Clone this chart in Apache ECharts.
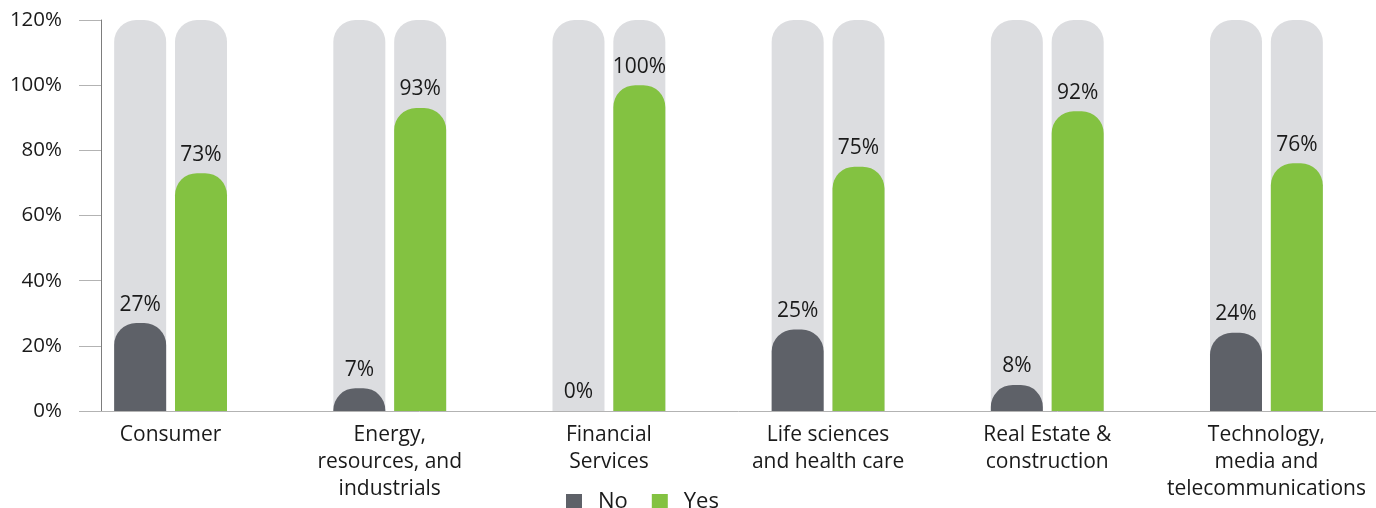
<!DOCTYPE html>
<html>
<head>
<meta charset="utf-8">
<script src="https://cdn.jsdelivr.net/npm/echarts@6/dist/echarts.min.js"></script>
<style>
  html, body { margin: 0; padding: 0; background: #fff; }
  #chart { width: 1376px; height: 508px; }
</style>
</head>
<body>
<div id="chart"></div>
<script>
// Share of respondents per sector answering No / Yes (percent)
const categories = [
  'Consumer',
  'Energy,\nresources, and\nindustrials',
  'Financial\nServices',
  'Life sciences\nand health care',
  'Real Estate &\nconstruction',
  'Technology,\nmedia and\ntelecommunications'
];
const noValues = [27, 7, 0, 25, 8, 24];
const yesValues = [73, 93, 100, 75, 92, 76];
const yTicks = { min: 0, max: 120, interval: 20 };

const FONT = '"Open Sans", "Noto Sans", sans-serif';
const TEXT = '#1a1a1a';
const DARK = '#5e6168';
const GREEN = '#83c241';
const TRACK = '#dcdde0';

const chart = echarts.init(document.getElementById('chart'), null, { renderer: 'canvas' });

const barCommon = {
  type: 'bar',
  xAxisIndex: 0,
  yAxisIndex: 0,
  barWidth: 52,
  barGap: '17%',
  showBackground: true,
  backgroundStyle: { color: TRACK, borderRadius: [22, 22, 0, 0] },
  label: {
    show: true,
    position: 'top',
    distance: 8,
    formatter: '{c}%',
    fontFamily: FONT,
    fontSize: 21,
    color: TEXT
  }
};

chart.setOption({
  animation: false,
  textStyle: { fontFamily: FONT },
  legend: {
    data: ['No', 'Yes'],
    left: 561,
    top: 486,
    icon: 'rect',
    itemWidth: 16,
    itemHeight: 16,
    itemGap: 24,
    textStyle: { fontFamily: FONT, fontSize: 22, color: TEXT, padding: [0, 0, 0, 11] }
  },
  grid: [
    // plotting area for the bars
    { left: 61, top: 20, width: 1324, height: 391 },
    // frame carrying the visible axes
    { left: 101, top: 20, right: 0, height: 391 }
  ],
  xAxis: [
    {
      gridIndex: 0,
      type: 'category',
      data: categories,
      axisLine: { show: false },
      axisTick: { show: false },
      axisLabel: {
        margin: 11,
        fontFamily: FONT,
        fontSize: 21,
        lineHeight: 27,
        color: TEXT,
        interval: 0
      }
    },
    {
      gridIndex: 1,
      type: 'value',
      min: 0,
      max: 1,
      axisLine: { show: true, lineStyle: { color: '#b3b3b3', width: 1 } },
      axisTick: { show: false },
      axisLabel: { show: false },
      splitLine: { show: false }
    }
  ],
  yAxis: [
    {
      gridIndex: 0,
      type: 'value',
      min: yTicks.min,
      max: yTicks.max,
      interval: yTicks.interval,
      show: false
    },
    {
      gridIndex: 1,
      type: 'value',
      min: yTicks.min,
      max: yTicks.max,
      interval: yTicks.interval,
      axisLine: { show: true, lineStyle: { color: '#7d7d7d', width: 1 } },
      axisTick: { show: true, length: 22, lineStyle: { color: '#b3b3b3' } },
      axisLabel: {
        margin: 39,
        formatter: '{value}%',
        fontFamily: FONT,
        fontSize: 20.5,
        color: TEXT
      },
      splitLine: { show: false }
    }
  ],
  series: [
    Object.assign({}, barCommon, {
      name: 'No',
      data: noValues,
      itemStyle: { color: DARK, borderRadius: [22, 22, 0, 0] }
    }),
    Object.assign({}, barCommon, {
      name: 'Yes',
      data: yesValues,
      itemStyle: { color: GREEN, borderRadius: [22, 22, 0, 0] }
    }),
    { type: 'line', xAxisIndex: 1, yAxisIndex: 1, data: [], silent: true }
  ]
});
</script>
</body>
</html>
